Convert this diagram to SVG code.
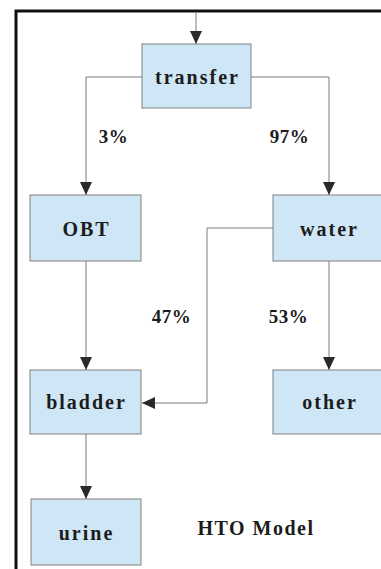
<svg xmlns="http://www.w3.org/2000/svg" width="381" height="569" viewBox="0 0 381 569">
<style>
.box{fill:#cfe6f6;stroke:#808080;stroke-width:1}
.lbl{font-family:"Liberation Serif","Times New Roman",serif;font-weight:bold;font-size:20px;letter-spacing:2px;fill:#1c1c1c;text-anchor:middle}
.pct{font-family:"Liberation Serif","Times New Roman",serif;font-weight:bold;font-size:19px;letter-spacing:0.5px;fill:#1c1c1c;text-anchor:middle}
.con{fill:none;stroke:#7a7a7a;stroke-width:1}
</style>
<defs>
<marker id="ah" markerUnits="userSpaceOnUse" markerWidth="13" markerHeight="12" refX="13" refY="6" orient="auto">
<path d="M0,0 L13,6 L0,12 z" fill="#2a2a2a"/>
</marker>
</defs>
<rect width="381" height="569" fill="#ffffff"/>
<g id="frame">
<path d="M16,575 L16,11 L390,11" fill="none" stroke="#111" stroke-width="3"/>
</g>
<g id="connectors">
<path class="con" d="M196,12 L196,44" marker-end="url(#ah)"/>
<path class="con" d="M142,77 L86,77 L86,195" marker-end="url(#ah)"/>
<path class="con" d="M251,77 L329,77 L329,195" marker-end="url(#ah)"/>
<path class="con" d="M86,261 L86,370" marker-end="url(#ah)"/>
<path class="con" d="M273,228 L207,228 L207,403 L142,403" marker-end="url(#ah)"/>
<path class="con" d="M329,261 L329,370" marker-end="url(#ah)"/>
<path class="con" d="M86,434 L86,499" marker-end="url(#ah)"/>
<text class="pct" x="113.5" y="143">3%</text>
<text class="pct" x="289.5" y="143">97%</text>
<text class="pct" x="171.5" y="323">47%</text>
<text class="pct" x="288.5" y="323">53%</text>
</g>
<g id="transfer">
<rect class="box" x="142" y="44" width="109" height="64"/>
<text class="lbl" x="197.5" y="84">transfer</text>
</g>
<g id="OBT">
<rect class="box" x="30" y="195" width="111" height="66"/>
<text class="lbl" x="86.5" y="236">OBT</text>
</g>
<g id="water">
<rect class="box" x="273" y="195" width="111" height="66"/>
<text class="lbl" x="329.5" y="236">water</text>
</g>
<g id="bladder">
<rect class="box" x="30" y="370" width="111" height="64"/>
<text class="lbl" x="86.5" y="409">bladder</text>
</g>
<g id="other">
<rect class="box" x="273" y="370" width="111" height="64"/>
<text class="lbl" x="330" y="409">other</text>
</g>
<g id="urine">
<rect class="box" x="31" y="499" width="110" height="66"/>
<text class="lbl" x="86.5" y="540">urine</text>
</g>
<g id="title">
<text class="lbl" x="256" y="535" style="letter-spacing:1.5px">HTO Model</text>
</g>
</svg>
